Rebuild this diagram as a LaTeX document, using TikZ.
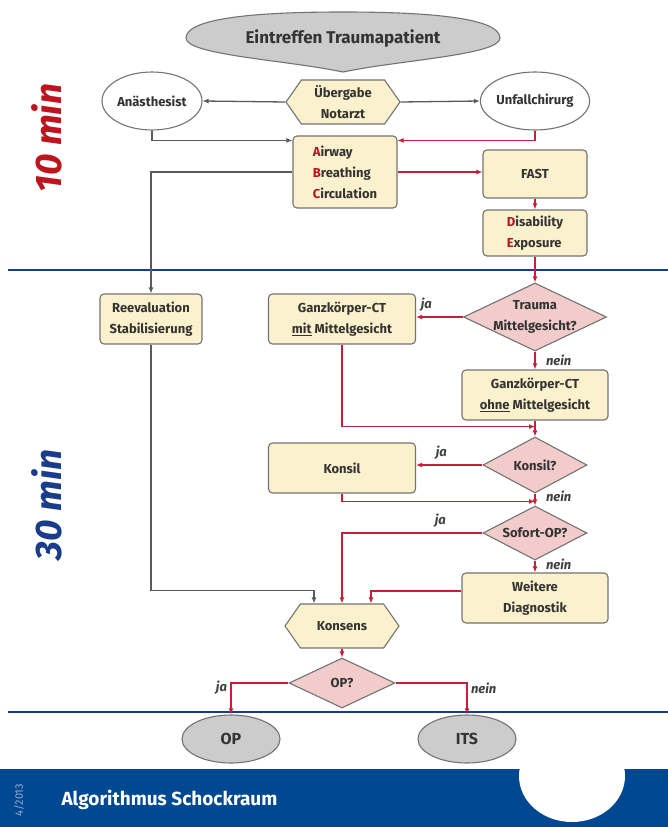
\documentclass[tikz,border=0pt]{standalone}
\usepackage{fontspec}
\setmainfont{Fira Sans}
\usetikzlibrary{shapes.geometric,shapes.symbols,arrows.meta}

\definecolor{boxfill}{RGB}{252,241,205}
\definecolor{rautefill}{RGB}{242,203,203}
\definecolor{linered}{RGB}{196,32,56}
\definecolor{linegray}{RGB}{90,90,90}
\definecolor{randgray}{RGB}{115,115,115}
\definecolor{ovalgray}{RGB}{204,204,204}
\definecolor{zeitrot}{RGB}{190,20,30}
\definecolor{zeitblau}{RGB}{25,60,140}
\definecolor{bandblau}{RGB}{0,72,145}
\definecolor{buchstrot}{RGB}{180,20,35}
\definecolor{datumblau}{RGB}{150,172,205}

\begin{document}
\begin{tikzpicture}[x=1pt, y=-1pt,
    every node/.style={font=\fontsize{13}{21}\selectfont\bfseries, text=black!80},
    kasten/.style={shape=rectangle, draw=randgray, fill=boxfill, rounded corners=4pt, line width=1.1pt, align=center},
    raute/.style={shape=diamond, aspect=2, draw=randgray, fill=rautefill, line width=1.1pt, align=center, inner sep=0pt},
    sechseck/.style={shape=signal, signal to=west and east, signal pointer angle=110, draw=randgray, fill=boxfill, line width=1.1pt, align=center},
    oval/.style={shape=ellipse, draw=randgray, line width=1.1pt, inner sep=0pt},
    rotpfeil/.style={draw=linered, line width=1.4pt, -{Latex[length=6pt,width=5pt]}},
    graupfeil/.style={draw=linegray, line width=1.3pt, -{Latex[length=6pt,width=5pt]}},
    antwort/.style={font=\fontsize{13}{14}\selectfont\bfseries\itshape, text=black!75},
    trenner/.style={draw=zeitblau, line width=2pt}
]
\fill[white] (0,0) rectangle (668,827);
\useasboundingbox (0,0) rectangle (668,827);

% Zeitabschnitte
\draw[trenner] (8,270) -- (668,270);
\draw[trenner] (8,712) -- (668,712);
\node[rotate=90, text=zeitrot, font=\fontsize{37}{37}\selectfont\bfseries\itshape] (zehn) at (47,138) {10 min};
\node[rotate=90, text=zeitblau, font=\fontsize{37}{37}\selectfont\bfseries\itshape] (dreissig) at (47,505) {30 min};

% Start
\filldraw[fill=ovalgray, draw=randgray, line width=1.1pt] (186,38) .. controls (186,15) and (280,12) .. (343,12)
    .. controls (406,12) and (500,15) .. (500,38) .. controls (500,55) and (400,60) .. (343,72)
    .. controls (286,60) and (186,55) .. (186,38);
\node[font=\fontsize{17}{18}\selectfont\bfseries] (eintreffen) at (343,38) {Eintreffen Traumapatient};

% 10 min
\node[oval, minimum width=100, minimum height=58] (anaes) at (152,101) {Anästhesist};
\node[sechseck, minimum width=114, minimum height=44] (uebergabe) at (343,102) {Übergabe\\Notarzt};
\node[oval, minimum width=100, minimum height=58] (unfall) at (535,101) {Unfallchirurg};
\node[kasten, align=left, minimum width=104, minimum height=72] (abc) at (345,172)
    {\textcolor{buchstrot}{A}irway\\\textcolor{buchstrot}{B}reathing\\\textcolor{buchstrot}{C}irculation};
\node[kasten, minimum width=104, minimum height=48] (fast) at (535,174) {FAST};
\node[kasten, align=left, minimum width=104, minimum height=46] (de) at (535,233)
    {\textcolor{buchstrot}{D}isability\\\textcolor{buchstrot}{E}xposure};

% 30 min
\node[kasten, minimum width=102, minimum height=50] (reeval) at (151,319) {Reevaluation\\Stabilisierung};
\node[kasten, minimum width=147, minimum height=50] (ctmit) at (342,319) {Ganzkörper-CT\\\underline{mit} Mittelgesicht};
\node[raute, minimum width=143, minimum height=68, label={[align=center]center:Trauma\\Mittelgesicht?}] (trauma) at (535,317) {};
\node[kasten, minimum width=146, minimum height=50] (ctohne) at (535,395) {Ganzkörper-CT\\\underline{ohne} Mittelgesicht};
\node[raute, minimum width=104, minimum height=56] (konsilq) at (535,465) {Konsil?};
\node[kasten, minimum width=147, minimum height=50] (konsil) at (342,468) {Konsil};
\node[raute, minimum width=104, minimum height=54] (sofort) at (535,533) {Sofort-OP?};
\node[kasten, minimum width=146, minimum height=50] (weitere) at (535,598) {Weitere\\Diagnostik};
\node[sechseck, minimum width=114, minimum height=44] (konsens) at (342,626) {Konsens};
\node[raute, minimum width=106, minimum height=50] (opq) at (342,683) {OP?};
\node[oval, fill=ovalgray, minimum width=98, minimum height=48, font=\fontsize{16}{16}\selectfont\bfseries] (op) at (231,739) {OP};
\node[oval, fill=ovalgray, minimum width=98, minimum height=48, font=\fontsize{16}{16}\selectfont\bfseries] (its) at (467,739) {ITS};

% Verbindungen
\draw[graupfeil] (uebergabe.west) -- (anaes.east);
\draw[graupfeil] (uebergabe.east) -- (unfall.west);
\draw[graupfeil] (anaes.south) |- ([yshift=-5pt]abc.north west);
\draw[rotpfeil] (unfall.south) |- ([yshift=-5pt]abc.north east);
\draw[rotpfeil] (abc.east) -- (abc.east -| fast.west);
\draw[graupfeil] (abc.west) -| (reeval.north);
\draw[rotpfeil] (fast.south) -- (de.north);
\draw[rotpfeil] (de.south) -- (trauma.north);
\draw[rotpfeil] (trauma.west) -- (trauma.west -| ctmit.east) node[antwort, pos=0.78, above, yshift=2pt] {ja};
\draw[rotpfeil] (trauma.south) -- (ctohne.north) node[antwort, midway, right, xshift=7pt] {nein};
\draw[rotpfeil] (ctmit.south) |- ([yshift=-6pt]ctohne.south);
\draw[rotpfeil] (ctohne.south) -- (konsilq.north);
\draw[rotpfeil] (konsilq.west) -- (konsilq.west -| konsil.east) node[antwort, pos=0.62, above, yshift=2pt] {ja};
\draw[rotpfeil] (konsilq.south) -- (sofort.north) node[antwort, pos=0.2, right, xshift=7pt] {nein};
\draw[rotpfeil] (konsil.south) |- ([yshift=4pt]sofort.north);
\draw[rotpfeil] (sofort.west) -| (konsens.north) node[antwort, pos=0.15, above, yshift=2pt] {ja};
\draw[rotpfeil] (sofort.south) -- (weitere.north) node[antwort, pos=0.3, right, xshift=7pt] {nein};
\draw[rotpfeil] ([yshift=7pt]weitere.west) -| ([xshift=29pt]konsens.north);
\draw[graupfeil] (reeval.south) |- ([xshift=-28pt,yshift=13pt]konsens.north) -- ([xshift=-28pt]konsens.north);
\draw[rotpfeil] (konsens.south) -- (opq.north);
\draw[rotpfeil] (opq.west) -| (op.north) node[antwort, pos=0.5, left, yshift=-5pt] {ja};
\draw[rotpfeil] (opq.east) -| (its.north) node[antwort, pos=0.5, right, yshift=-5pt] {nein};

% Fusszeile
\fill[bandblau] (0,769) rectangle (668,827);
\begin{scope}
    \clip (0,769) rectangle (668,827);
    \fill[white] (572,776) ellipse [x radius=53, y radius=46];
\end{scope}
\node[anchor=west, text=white, font=\fontsize{19}{20}\selectfont\bfseries] (titel) at (58,800) {Algorithmus Schockraum};
\node[rotate=90, text=datumblau, font=\fontsize{11}{11}\selectfont] (datum) at (19,800) {4/2013};
\end{tikzpicture}
\end{document}
